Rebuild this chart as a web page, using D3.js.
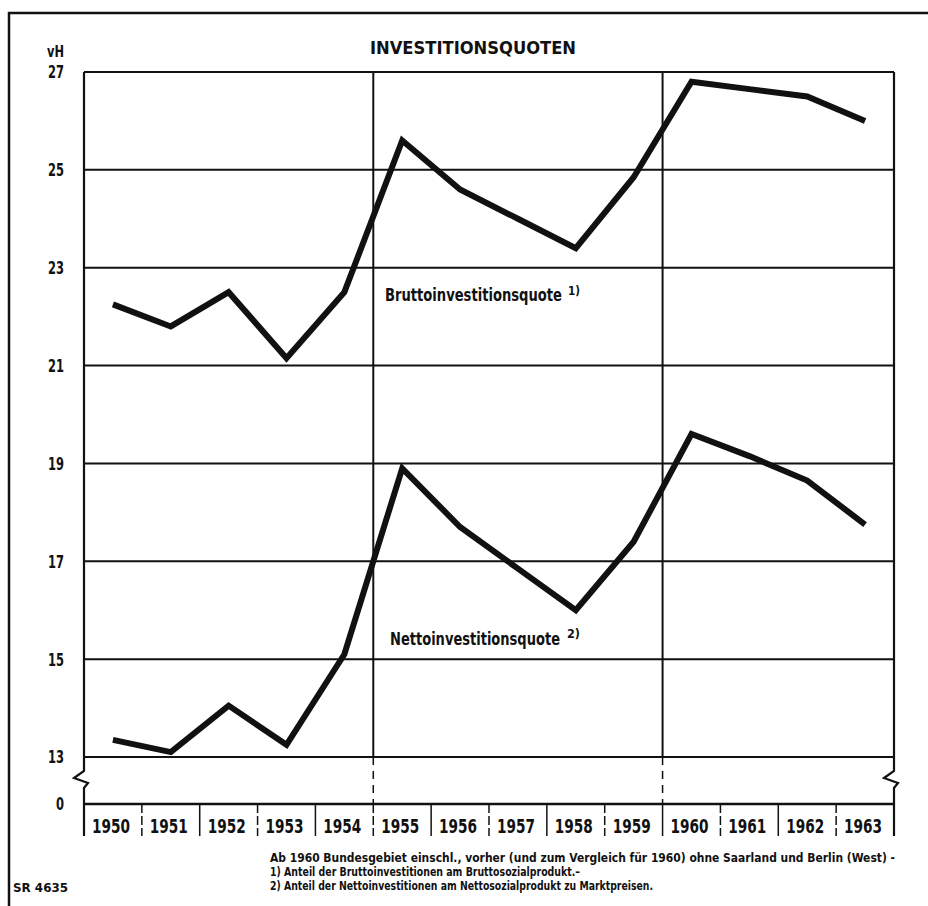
<!DOCTYPE html>
<html>
<head>
<meta charset="utf-8">
<script src="https://cdn.jsdelivr.net/npm/d3@7"></script>
<style>
  body { margin: 0; background: #fff; }
  svg text { font-family: "Liberation Sans Narrow", "DejaVu Sans Condensed", "Open Sans", sans-serif; font-weight: bold; fill: #111; }
</style>
</head>
<body>
<div class="canvas"></div>
<script>
// Years on the x-axis
var years = ['1950','1951','1952','1953','1954','1955','1956','1957','1958','1959','1960','1961','1962','1963'];

// Bruttoinvestitionsquote (vH)
var brutto = [22.25, 21.8, 22.5, 21.15, 22.5, 25.6, 24.6, 24.0, 23.4, 24.85, 26.8, 26.65, 26.5, 26.0];

// Nettoinvestitionsquote (vH)
var netto = [13.35, 13.1, 14.05, 13.25, 15.1, 18.9, 17.7, 16.85, 16.0, 17.4, 19.6, 19.15, 18.65, 17.75];

// Tick labels for y-axis (axis is broken between 0 and 13)
var yTicks = [0, 13, 15, 17, 19, 21, 23, 25, 27];

// Years where a heavy vertical line is drawn
var majorYears = ['1955', '1960'];

// Texts
var title = 'INVESTITIONSQUOTEN';
var footnotes = [
  'Ab 1960 Bundesgebiet einschl., vorher (und zum Vergleich für 1960) ohne Saarland und Berlin (West)  -',
  '1) Anteil der Bruttoinvestitionen am Bruttosozialprodukt.\u2013',
  '2) Anteil der Nettoinvestitionen am Nettosozialprodukt zu Marktpreisen.'
];
// widths the footnote lines take on the sheet
var footnoteWidths = [625, 310, 383];

// Variables for d3
const svgWidth = 928;
const svgHeight = 906;
const plot = {left: 84, right: 894, top: 72, bottom: 804};

let svg, xScale, yScale;

// squeeze a text to the narrow type used on the sheet
function narrow(sel, w){
    sel.attr('textLength', w).attr('lengthAdjust', 'spacingAndGlyphs');
}

// Method: createScales()
function createScales(){
    xScale = d3.scaleBand().domain(years)
    .range([plot.left, plot.right]);

    // piecewise scale so the gap between 0 and 13 is squeezed
    yScale = d3.scaleLinear().domain([0, 13, 27])
    .range([plot.bottom, 757, plot.top]);
}

// Method: drawFrame()
function drawFrame(){
    // outer frame, only left and top edges are on the sheet
    svg.append('path')
    .attr('d', 'M9,' + svgHeight + ' L9,13 L' + svgWidth + ',13')
    .attr('fill', 'none')
    .attr('stroke', '#111')
    .attr('stroke-width', 2.5);

    svg.append('text')
    .attr('x', 370)
    .attr('y', 54)
    .attr('font-size', 18)
    .call(narrow, 206)
    .text(title);
}

// Method: drawGrid()
function drawGrid(){
    var g = svg.append('g').attr('class', 'grid');

    // horizontal lines
    g.selectAll('line.h')
    .data(yTicks)
    .enter()
    .append('line')
    .attr('class', 'h')
    .attr('x1', plot.left)
    .attr('x2', plot.right)
    .attr('y1', d => yScale(d))
    .attr('y2', d => yScale(d))
    .attr('stroke', '#111')
    .attr('stroke-width', d => d === 0 ? 2.5 : 2);

    // heavy vertical lines at 1955 and 1960
    g.selectAll('line.v')
    .data(majorYears)
    .enter()
    .append('line')
    .attr('class', 'v')
    .attr('x1', d => xScale(d))
    .attr('x2', d => xScale(d))
    .attr('y1', yScale(27))
    .attr('y2', yScale(13))
    .attr('stroke', '#111')
    .attr('stroke-width', 2);

    // dashed continuation in the break zone
    g.selectAll('line.vd')
    .data(majorYears)
    .enter()
    .append('line')
    .attr('class', 'vd')
    .attr('x1', d => xScale(d))
    .attr('x2', d => xScale(d))
    .attr('y1', yScale(13))
    .attr('y2', yScale(0))
    .attr('stroke', '#111')
    .attr('stroke-width', 1.5)
    .attr('stroke-dasharray', '8,6');

    // left and right axis lines with a zigzag break
    var edges = [plot.left, plot.right];
    var y13 = yScale(13), y0 = yScale(0);
    g.selectAll('path.edge')
    .data(edges)
    .enter()
    .append('path')
    .attr('class', 'edge')
    .attr('d', x => 'M' + x + ',' + plot.top + ' L' + x + ',' + (y13 + 14) +
        ' L' + (x - 10) + ',' + (y13 + 21) + ' L' + (x + 4) + ',' + (y13 + 26) +
        ' L' + x + ',' + (y13 + 31) + ' L' + x + ',' + (y0 + 32))
    .attr('fill', 'none')
    .attr('stroke', '#111')
    .attr('stroke-width', 2.2);

    // separators between the year labels
    g.selectAll('line.sep')
    .data(years.slice(1))
    .enter()
    .append('line')
    .attr('class', 'sep')
    .attr('x1', d => xScale(d))
    .attr('x2', d => xScale(d))
    .attr('y1', y0)
    .attr('y2', y0 + 32)
    .attr('stroke', '#111')
    .attr('stroke-width', 1.5)
    .attr('stroke-dasharray', (d, i) => i % 2 ? null : '9,3');
}

// Method: drawAxes()
function drawAxes(){
    // y tick labels
    svg.append('g')
    .selectAll('text')
    .data(yTicks)
    .enter()
    .append('text')
    .attr('x', 64)
    .attr('y', d => yScale(d))
    .attr('dy', '0.36em')
    .attr('text-anchor', 'end')
    .attr('font-size', 18)
    .attr('textLength', d => String(d).length * 8)
    .attr('lengthAdjust', 'spacingAndGlyphs')
    .text(d => d);

    svg.append('text')
    .attr('x', 47)
    .attr('y', 57)
    .attr('font-size', 15)
    .call(narrow, 17)
    .text('vH');

    // year labels
    svg.append('g')
    .selectAll('text')
    .data(years)
    .enter()
    .append('text')
    .attr('x', d => xScale(d) + xScale.bandwidth() / 2 - 2)
    .attr('y', yScale(0) + 29)
    .attr('text-anchor', 'middle')
    .attr('font-size', 19)
    .call(narrow, 38)
    .text(d => d);
}

// Method: drawData()
function drawData(){
    var line = d3.line()
    .x((d, i) => xScale(years[i]) + xScale.bandwidth() / 2)
    .y(d => yScale(d));

    [brutto, netto].forEach(series => {
        svg.append('path')
        .datum(series)
        .attr('d', line)
        .attr('fill', 'none')
        .attr('stroke', '#111')
        .attr('stroke-width', 6)
        .attr('stroke-linejoin', 'miter')
        .attr('stroke-linecap', 'butt');
    });

    // series labels with their footnote marks
    svg.append('text')
    .attr('x', 385)
    .attr('y', 301)
    .attr('font-size', 17)
    .call(narrow, 177)
    .text('Bruttoinvestitionsquote');
    svg.append('text')
    .attr('x', 568)
    .attr('y', 295)
    .attr('font-size', 12)
    .call(narrow, 12)
    .text('1)');

    svg.append('text')
    .attr('x', 390)
    .attr('y', 645)
    .attr('font-size', 17)
    .call(narrow, 170)
    .text('Nettoinvestitionsquote');
    svg.append('text')
    .attr('x', 567)
    .attr('y', 638)
    .attr('font-size', 12)
    .call(narrow, 13)
    .text('2)');
}

// Method: drawNotes()
function drawNotes(){
    svg.append('g')
    .selectAll('text')
    .data(footnotes)
    .enter()
    .append('text')
    .attr('x', 270)
    .attr('y', (d, i) => 862 + i * 14)
    .attr('font-size', 12)
    .attr('textLength', (d, i) => footnoteWidths[i])
    .attr('lengthAdjust', 'spacingAndGlyphs')
    .text(d => d);

    svg.append('text')
    .attr('x', 13)
    .attr('y', 892)
    .attr('font-size', 12)
    .call(narrow, 55)
    .text('SR 4635');
}

// Method: drawCanvas()
function drawCanvas(){
    svg = d3.select('.canvas')
    .append('svg')
    .attr('width', svgWidth)
    .attr('height', svgHeight)
    .style('background-color', 'white')
    .style('display', 'block');

    createScales();
    drawFrame();
    drawGrid();
    drawAxes();
    drawData();
    drawNotes();
}

drawCanvas();
</script>
</body>
</html>
